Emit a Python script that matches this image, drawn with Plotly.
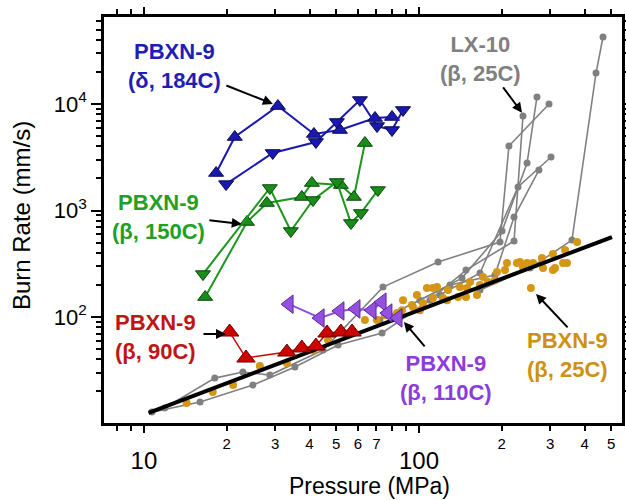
import plotly.graph_objects as go

# ---------------- data ----------------
blue_up_x = [18.3, 21.4, 30.7, 41.5, 51.6, 69.2, 79.8]
blue_up_y = [2250, 4900, 9570, 5230, 5700, 7390, 7550]
blue_dn_x = [19.9, 29.4, 42.2, 50.3, 61.0, 70.4, 79.8, 87.5]
blue_dn_y = [1770, 3470, 4400, 6780, 10900, 6210, 5700, 8790]

green_up_x = [16.7, 23.7, 28.0, 37.5, 40.8, 52.0, 58.0, 63.6]
green_up_y = [154, 780, 1176, 1340, 1812, 1734, 1340, 4300]
green_dn_x = [16.4, 28.7, 34.2, 41.2, 50.3, 56.6, 61.5, 70.9]
green_dn_y = [253, 1627, 642, 1255, 1853, 763, 948, 1557]

red_x = [20.5, 23.5, 33.1, 37.5, 42.2, 46.3, 52.0, 57.1]
red_y = [72.3, 41.2, 46.9, 51.2, 53.4, 70.8, 72.3, 72.3]

purple_x = [33.7, 43.7, 51.6, 59.0, 67.5, 73.4, 77.1, 83.9]
purple_y = [132, 97.9, 114, 119, 116, 138, 109, 98]

orange_x = [14.3, 17.8, 21.1, 26.4, 33.1, 41.2, 46.7, 53.8, 63.6, 70.3, 75.2, 83.2,
            86.7, 87.5, 94.3, 100.8, 103.4, 112.4, 112.4, 126.4, 127.5, 138.6, 140.9,
            149.5, 153.3, 162.5, 166.7, 178.2, 188.8, 192.1, 205.5, 208.9, 227.0, 232.8,
            238.8, 247.1, 279.9, 282.5, 306.9, 306.9, 339.6, 345.1, 375.5, 255.3,
            334.0, 312.3, 259.8, 170.9, 148.2, 122.2, 116.3, 106.9, 98.3, 95.1]
orange_y = [15.6, 19.8, 23.0, 34.7, 37.0, 49.0, 60.8, 70.8, 93.8, 93.8, 104, 109,
            116, 144, 130, 116, 135, 151, 187, 144, 179, 154, 191,
            187, 213, 161, 200, 213, 222, 265, 276, 321, 321, 328,
            295, 321, 358, 288, 390, 276, 426, 321, 506, 187,
            321, 288, 321, 237, 154, 151, 191, 187, 161, 124]

gray_runs_x = [
    [10.7, 16.0, 24.9, 35.4, 50.8, 73.4, 109.6, 148.2, 221.6, 238.8],
    [11.9, 18.1, 22.9, 28.7, 44.8, 74.0, 117.3, 197.0, 212.3, 297.0],
    [100.8, 143.3, 200.4, 247.1, 268.5],
    [119.2, 166.7, 229.1, 302.0],
    [72.1, 129.6, 188.8, 221.6, 272.9],
    [166.7, 253.3, 359.8, 440.1, 466.7],
]
gray_runs_y = [
    [12.8, 15.9, 23.0, 34.0, 54.6, 70.8, 144, 276, 517, 7710],
    [14.0, 26.7, 30.5, 28.5, 49.0, 191, 328, 506, 4030, 10000],
    [144, 232, 642, 2790, 11640],
    [161, 259, 1665, 3180],
    [93.8, 200, 248, 869, 2400],
    [179, 288, 528, 19550, 42560],
]

fit_x = [10.4, 503]
fit_y = [12.6, 564]

x_minor_vals = [8, 9, 20, 30, 40, 50, 60, 70, 80, 90, 200, 300, 400, 500]
x_minor_text = ["", "", "2", "3", "4", "5", "6", "7", "", "", "2", "3", "4", "5"]
x_major_vals = [10, 100]
x_major_text = ["10", "100"]
y_major_vals = [100, 1000, 10000]
y_major_text = ["10<sup>2</sup>", "10<sup>3</sup>", "10<sup>4</sup>"]
y_minor_vals = [20, 30, 40, 50, 60, 70, 80, 90,
                200, 300, 400, 500, 600, 700, 800, 900,
                2000, 3000, 4000, 5000, 6000, 7000, 8000, 9000,
                20000, 30000, 40000, 50000, 60000]

FONT = "Liberation Sans"

BLUE = "rgb(25,25,175)"
GREEN = "rgb(30,150,30)"
RED = "rgb(205,0,0)"
PURPLE = "rgb(150,80,225)"
ORANGE = "rgb(212,150,20)"
GRAY = "rgb(128,128,128)"

fig = go.Figure()

for gx, gy in zip(gray_runs_x, gray_runs_y):
    fig.add_trace(go.Scatter(x=gx, y=gy, mode="lines+markers",
                             line=dict(color=GRAY, width=1.6),
                             marker=dict(symbol="circle", size=7, color=GRAY),
                             showlegend=False))

fig.add_trace(go.Scatter(x=orange_x, y=orange_y, mode="markers",
                         marker=dict(symbol="circle", size=8, color=ORANGE),
                         showlegend=False))

fig.add_trace(go.Scatter(x=fit_x, y=fit_y, mode="lines",
                         line=dict(color="black", width=4), showlegend=False))

fig.add_trace(go.Scatter(x=purple_x, y=purple_y, mode="lines+markers",
                         line=dict(color=PURPLE, width=2),
                         marker=dict(symbol="triangle-left", size=16, color=PURPLE,
                                     line=dict(color="rgb(90,40,150)", width=1)),
                         showlegend=False))

fig.add_trace(go.Scatter(x=red_x, y=red_y, mode="lines+markers",
                         line=dict(color=RED, width=1.5),
                         marker=dict(symbol="triangle-up", size=16, color=RED,
                                     line=dict(color="rgb(110,0,0)", width=1)),
                         showlegend=False))

for gx, gy, sym in [(green_up_x, green_up_y, "triangle-up"),
                    (green_dn_x, green_dn_y, "triangle-down")]:
    fig.add_trace(go.Scatter(x=gx, y=gy, mode="lines+markers",
                             line=dict(color=GREEN, width=2),
                             marker=dict(symbol=sym, size=13, color="rgb(25,140,25)",
                                         line=dict(color="rgb(10,70,10)", width=1)),
                             showlegend=False))

for bx, by, sym in [(blue_up_x, blue_up_y, "triangle-up"),
                    (blue_dn_x, blue_dn_y, "triangle-down")]:
    fig.add_trace(go.Scatter(x=bx, y=by, mode="lines+markers",
                             line=dict(color=BLUE, width=2),
                             marker=dict(symbol=sym, size=13, color=BLUE,
                                         line=dict(color="rgb(10,10,80)", width=1)),
                             showlegend=False))

# invisible trace for the second x axis (big 10 / 100 labels)
fig.add_trace(go.Scatter(x=[10, 100], y=[100, 100], xaxis="x2", mode="markers",
                         marker=dict(opacity=0), hoverinfo="skip", showlegend=False))

XR = [0.855, 2.738]
YR = [1.005, 4.817]

fig.update_layout(
    template="none",
    width=626, height=500,
    margin=dict(l=104, r=4, t=17, b=77, autoexpand=False),
    paper_bgcolor="white", plot_bgcolor="white",
    font=dict(family=FONT, color="black"),
    xaxis=dict(type="log", range=XR, showgrid=False, zeroline=False, automargin=False,
               showline=True, linecolor="black", linewidth=2.5, mirror="ticks",
               ticks="outside", ticklen=5, tickwidth=1.5, tickcolor="black",
               tickmode="array", tickvals=x_minor_vals, ticktext=x_minor_text,
               tickfont=dict(size=15, family=FONT, color="black")),
    xaxis2=dict(type="log", range=XR, overlaying="x", anchor="y", side="bottom",
                showgrid=False, zeroline=False, showline=False, mirror="ticks",
                automargin=False,
                ticks="outside", ticklen=9, tickwidth=2, tickcolor="black",
                tickmode="array", tickvals=x_major_vals, ticktext=x_major_text,
                ticklabelstandoff=7,
                tickfont=dict(size=24, family=FONT, color="black")),
    yaxis=dict(type="log", range=YR, showgrid=False, zeroline=False, automargin=False,
               showline=True, linecolor="black", linewidth=2.5, mirror="ticks",
               ticks="outside", ticklen=10, tickwidth=2, tickcolor="black",
               tickmode="array", tickvals=y_major_vals, ticktext=y_major_text,
               tickfont=dict(size=22, family=FONT, color="black"),
               minor=dict(tickmode="array", tickvals=y_minor_vals, ticks="outside",
                          ticklen=5, tickwidth=1.5, tickcolor="black")),
)

# axis titles
fig.add_annotation(text="Burn Rate (mm/s)", xref="paper", yref="paper",
                   x=-0.158, y=0.51, xanchor="center", yanchor="middle",
                   textangle=-90, showarrow=False,
                   font=dict(size=24, family=FONT, color="black"))
fig.add_annotation(text="Pressure (MPa)", xref="paper", yref="paper",
                   x=0.512, y=-0.156, xanchor="center", yanchor="middle",
                   showarrow=False,
                   font=dict(size=23, family=FONT, color="black"))

labels = [
    ("PBXN-9<br>(\u03b4, 184C)", 0.137, 0.879, "rgb(30,30,180)"),
    ("PBXN-9<br>(\u03b2, 150C)", 0.106, 0.507, "rgb(35,160,35)"),
    ("PBXN-9<br>(\u03b2, 90C)", 0.100, 0.212, "rgb(195,20,20)"),
    ("PBXN-9<br>(\u03b2, 110C)", 0.660, 0.111, "rgb(140,60,220)"),
    ("PBXN-9<br>(\u03b2, 25C)", 0.894, 0.167, "rgb(205,145,20)"),
    ("LX-10<br>(\u03b2, 25C)", 0.726, 0.897, "rgb(128,128,128)"),
]
for txt, lx, ly, col in labels:
    fig.add_annotation(text="<b>" + txt + "</b>", xref="paper", yref="paper",
                       x=lx, y=ly, xanchor="center", yanchor="middle",
                       showarrow=False, align="center",
                       font=dict(size=22, family=FONT, color=col))

arrows = [
    (0.326, 0.786, -48, -19),
    (0.266, 0.490, -34, -4),
    (0.2355, 0.219, -24, 0),
    (0.579, 0.249, 22, 26),
    (0.834, 0.318, 33, 35),
    (0.807, 0.764, -20, -27),
]
for hx, hy, ax, ay in arrows:
    fig.add_annotation(text="", xref="paper", yref="paper", x=hx, y=hy,
                       ax=ax, ay=ay, showarrow=True, arrowhead=2, arrowsize=1,
                       arrowwidth=2, arrowcolor="black")

fig.write_html("out.html",
               config={"displayModeBar": False},
               post_script="document.body.style.margin='0';"
                           "document.body.style.overflow='hidden';")
